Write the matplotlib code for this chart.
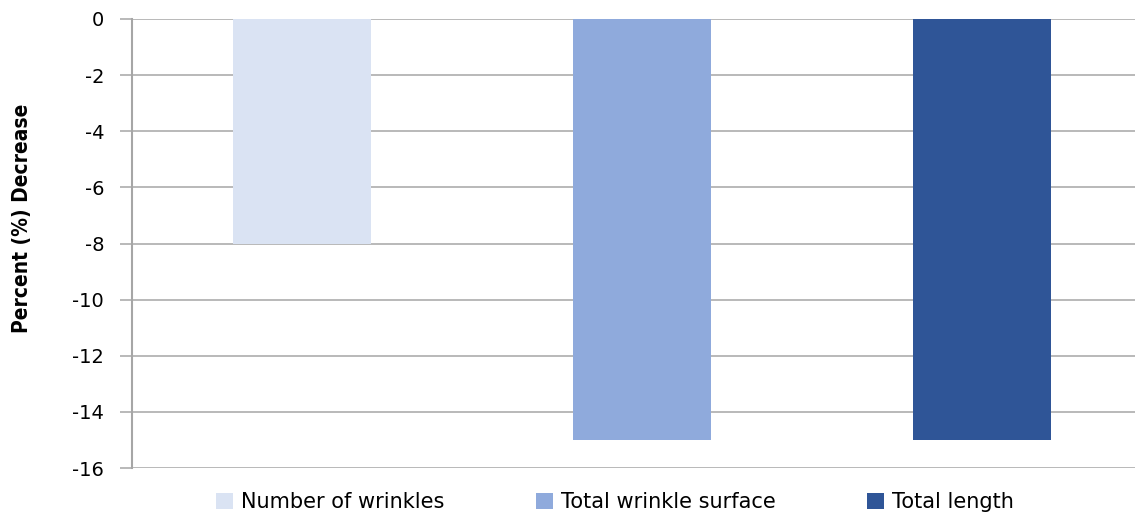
import matplotlib
matplotlib.use("Agg")
import matplotlib.pyplot as plt
from matplotlib.patches import Patch

categories = ["Number of wrinkles", "Total wrinkle surface", "Total length"]
values = [-8, -15, -15]
colors = ["#DAE3F3", "#8FAADC", "#2F5597"]
yticks = [0, -2, -4, -6, -8, -10, -12, -14, -16]

W, H = 1135, 514
fig = plt.figure(figsize=(W / 100, H / 100), dpi=100)
ax = fig.add_axes([132 / W, 1 - 468 / H, 1 - 132 / W, (468 - 19) / H])

x = list(range(len(categories)))
ax.bar(x, values, width=0.403, color=colors, zorder=3)
ax.set_xlim(-0.5, -0.5 + (W - 132) / 340)
ax.set_ylim(-16, 0)
ax.set_yticks(yticks)
ax.set_yticklabels([str(v) for v in yticks], fontsize=14, family="DejaVu Sans")
ax.set_xticks([])
ax.yaxis.grid(True, color="#A6A6A6", linewidth=1.1, zorder=0)
ax.tick_params(axis="y", length=9, width=1.1, color="#A6A6A6", pad=11)
for s in ["top", "right", "bottom"]:
    ax.spines[s].set_visible(False)
ax.spines["left"].set_color("#A6A6A6")
ax.spines["left"].set_linewidth(1.5)

fig.text(22 / W, 1 - 218 / H, "Percent (%) Decrease", rotation=90, va="center", ha="center",
         fontsize=15, fontweight="bold", fontstretch="condensed", family="DejaVu Sans")

handles = [Patch(facecolor=c, edgecolor="none") for c in colors]
fig.legend(handles, categories, loc="center", bbox_to_anchor=(615 / W, 1 - 502 / H), ncol=3,
           frameon=False, handlelength=0.8, handleheight=0.8,
           handletextpad=0.4, columnspacing=4.4, prop={"family": "DejaVu Sans", "size": 15})

fig.savefig("out.png", dpi=100)
